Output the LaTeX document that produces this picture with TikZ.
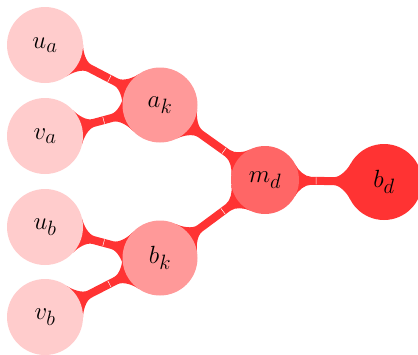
\documentclass[tikz,border=0pt]{standalone}
\usetikzlibrary{calc, backgrounds}

% flared link between two round nodes: from, to, r from, r to, seam position
\newcommand{\bridge}[5]{%
  \pgfmathsetmacro{\ca}{28-atan(7/#3)}%
  \pgfmathsetmacro{\cb}{28-atan(7/#4)}%
  \pgfmathsetmacro{\da}{sqrt(#3*#3+49)}%
  \pgfmathsetmacro{\db}{sqrt(#4*#4+49)}%
  \fill[link] (#1.center)
    -- ($(#1)!#3pt!28:(#2)$)
    .. controls ($(#1)!\da pt!\ca:(#2)$) and ($(#1)!#3pt+6pt!(#2)!4pt!90:(#2)$)
    .. ($(#1)!#3pt+12pt!(#2)!4pt!90:(#2)$)
    -- ($(#2)!#4pt+12pt!(#1)!4pt!-90:(#1)$)
    .. controls ($(#2)!#4pt+6pt!(#1)!4pt!-90:(#1)$) and ($(#2)!\db pt!-\cb:(#1)$)
    .. ($(#2)!#4pt!-28:(#1)$)
    -- (#2.center)
    -- ($(#2)!#4pt!28:(#1)$)
    .. controls ($(#2)!\db pt!\cb:(#1)$) and ($(#2)!#4pt+6pt!(#1)!4pt!90:(#1)$)
    .. ($(#2)!#4pt+12pt!(#1)!4pt!90:(#1)$)
    -- ($(#1)!#3pt+12pt!(#2)!4pt!-90:(#2)$)
    .. controls ($(#1)!#3pt+6pt!(#2)!4pt!-90:(#2)$) and ($(#1)!\da pt!-\ca:(#2)$)
    .. ($(#1)!#3pt!-28:(#2)$)
    -- cycle;
  \draw[seam] ($(#1)!#5!(#2)!3.5pt!90:(#2)$) -- ($(#1)!#5!(#2)!3.5pt!-90:(#2)$);
}

\begin{document}
\begin{tikzpicture}[
    x=1pt, y=-1pt,
    leafnode/.style={
        circle,
        fill=red!20,
        inner sep=0pt,
        minimum size=76pt,
        font=\Huge
    },
    pairnode/.style={leafnode, fill=red!40, minimum size=75pt},
    meetnode/.style={leafnode, fill=red!60, minimum size=68pt},
    rootnode/.style={leafnode, fill=red!80},
    link/.style={fill=red!80},
    seam/.style={draw=white, line width=0.5pt}
]
\useasboundingbox (0,0) rectangle (418,354);

\node (ua) [leafnode] at (45,45) {$u_a$};
\node (va) [leafnode] at (45,136) {$v_a$};
\node (ub) [leafnode] at (45,227) {$u_b$};
\node (vb) [leafnode] at (45,317) {$v_b$};
\node (ak) [pairnode] at (160,105) {$a_k$};
\node (bk) [pairnode] at (160,258) {$b_k$};
\node (md) [meetnode] at (265,180) {$m_d$};
\node (bd) [rootnode] at (384,182) {$b_d$};

\begin{scope}[on background layer]
\foreach \from/\to/\rf/\rt/\cut in {ua/ak/38/37.5/.56, va/ak/38/37.5/.51,
    ub/bk/38/37.5/.51, vb/bk/38/37.5/.56, ak/md/37.5/34/.61,
    bk/md/37.5/34/.6, md/bd/34/38/.43}
    \bridge{\from}{\to}{\rf}{\rt}{\cut};
\end{scope}

\end{tikzpicture}
\end{document}
